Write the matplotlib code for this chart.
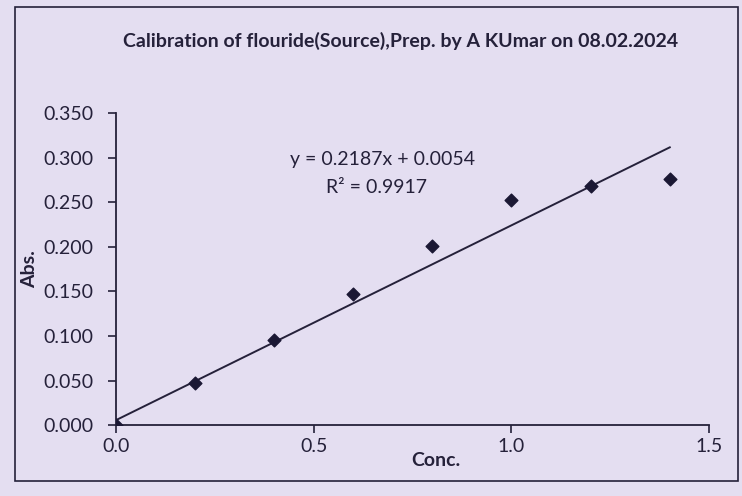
import numpy as np
import matplotlib.pyplot as plt
from matplotlib.patches import Rectangle

plt.rcParams['font.family'] = ['Lato', 'DejaVu Sans']

# calibration data
conc = [0.0, 0.2, 0.4, 0.6, 0.8, 1.0, 1.2, 1.4]
absb = [0.000, 0.047, 0.095, 0.147, 0.201, 0.253, 0.268, 0.276]
slope = 0.2187
intercept = 0.0054
r2 = 0.9917
yticks = [0.000, 0.050, 0.100, 0.150, 0.200, 0.250, 0.300, 0.350]
xticks = [0.0, 0.5, 1.0, 1.5]

bg = '#e4def1'
ink = '#25213a'

fig = plt.figure(figsize=(7.42, 4.96), dpi=100, facecolor=bg)
ax = fig.add_axes([0.156, 0.143, 0.80, 0.629], facecolor=bg)

# trendline from the printed equation
xl = np.array([min(conc), max(conc)])
ax.plot(xl, slope * xl + intercept, color=ink, lw=1.4, zorder=2)
ax.scatter(conc, absb, marker='D', s=42, color='#1b1834', zorder=3)

ax.set_xlim(0, 1.5)
ax.set_ylim(0, 0.35)
ax.set_xticks(xticks)
ax.set_xticklabels(['%.1f' % v for v in xticks])
ax.set_yticks(yticks)
ax.set_yticklabels(['%.3f' % v for v in yticks])
for s in ['top', 'right']:
    ax.spines[s].set_visible(False)
for s in ['left', 'bottom']:
    ax.spines[s].set_color(ink)
    ax.spines[s].set_linewidth(1.3)
ax.tick_params(colors=ink, labelsize=14, length=6, width=1.2, direction='out')
ax.tick_params(axis='x', pad=3)
ax.tick_params(axis='y', pad=10)

ax.set_xlabel('Conc.', fontsize=14, fontweight='bold', color=ink)
ax.xaxis.set_label_coords(0.54, -0.085)
ax.set_ylabel('Abs.', fontsize=14, fontweight='bold', color=ink)
ax.yaxis.set_label_coords(-0.131, 0.5)

ax.text(0.45, 0.85, 'y = %.4fx + %.4f' % (slope, intercept), transform=ax.transAxes,
        ha='center', va='center', fontsize=14, color=ink)
ax.text(0.44, 0.76, 'R² = %.4f' % r2, transform=ax.transAxes,
        ha='center', va='center', fontsize=14, color=ink)

fig.text(0.54, 0.918, 'Calibration of flouride(Source),Prep. by A KUmar on 08.02.2024',
         ha='center', va='center', fontsize=14, fontweight='bold', color=ink)

fig.patches.append(Rectangle((0.02, 0.03), 0.975, 0.955, transform=fig.transFigure,
                             fill=False, edgecolor=ink, lw=1.2))

fig.savefig('out.png', dpi=100, facecolor=bg)
